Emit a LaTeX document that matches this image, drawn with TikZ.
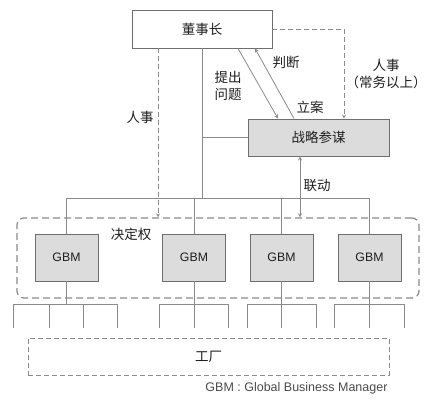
\documentclass[tikz,border=0pt]{standalone}
\usepackage{fontspec}
\setmainfont{Liberation Sans}
\newfontfamily\cjk{Noto Sans CJK SC}
\usetikzlibrary{arrows}
\definecolor{lineGray}{HTML}{8A8A8A}
\definecolor{boxGray}{HTML}{DCDCDC}
\definecolor{edgeGray}{HTML}{6E6E6E}
\definecolor{textGray}{HTML}{1E1E1E}
\tikzstyle{recNode} = [rectangle, inner sep=0pt, draw=edgeGray, line width=0.9pt, text=textGray, text centered, font=\cjk\fontsize{13.5}{16}\selectfont]
\tikzstyle{grayNode} = [recNode, fill=boxGray]
\tikzstyle{gbmNode} = [grayNode, minimum width=63pt, minimum height=47pt, font=\fontsize{12.3}{14}\selectfont]
\tikzstyle{eNode} = [text=textGray, align=center, inner sep=0pt, font=\cjk\fontsize{13.5}{17}\selectfont]
\tikzstyle{line} = [draw=lineGray, line width=0.8pt]
\tikzstyle{arrow} = [line, ->, >=stealth]
\tikzstyle{dashArrow} = [arrow, dash pattern=on 5pt off 3pt]

\begin{document}
\begin{tikzpicture}[x=1pt, y=-1pt]
    \useasboundingbox (0,0) rectangle (430,404);
    \node (chair) [recNode, minimum width=140pt, minimum height=38pt] at (202,29) {董事长};
    \node (staff) [grayNode, minimum width=141pt, minimum height=37pt] at (318.5,137.5) {战略参谋};
    \node (decide) [rectangle, rounded corners=7pt, draw=lineGray, line width=1.2pt, dash pattern=on 7pt off 4pt, minimum width=402pt, minimum height=80pt] at (218,258) {};
    \node (gbm1) [gbmNode] at (66.5,257.5) {GBM};
    \node (gbm2) [gbmNode] at (194,257.5) {GBM};
    \node (gbm3) [gbmNode] at (281.5,257.5) {GBM};
    \node (gbm4) [gbmNode] at (369.5,257.5) {GBM};
    \node (factory) [recNode, draw=lineGray, dash pattern=on 5pt off 3pt, minimum width=361pt, minimum height=37pt] at (208.5,356.5) {工厂};
    \node (note) [anchor=east, text=textGray!80, font=\fontsize{12.5}{14}\selectfont] at (391,388) {GBM : Global Business Manager};

    % labels
    \node (hrLeft) [eNode] at (140,117) {人事};
    \node (raise) [eNode] at (228,86) {提出\\问题};
    \node (judge) [eNode] at (286,62) {判断};
    \node (file) [eNode] at (310,107) {立案};
    \node (hrRight) [eNode] at (386,73.5) {人事\\（常务以上）};
    \node (link) [eNode] at (317,186) {联动};
    \node (power) [eNode] at (131,234) {决定权};

    % solid tree
    \coordinate (busL) at (66.5,198);
    \coordinate (busR) at (369.5,198);
    \draw [line] (busL) -- (busR);
    \draw [line] (chair.south) -- (chair.south |- busL);
    \draw [line] (chair.south |- staff.west) -- (staff.west);
    \foreach \g in {1,...,4}
        \draw [line] (gbm\g.north |- busL) -- (gbm\g.north);

    % dashed personnel lines
    \coordinate (hrTop) at ([xshift=-44pt]chair.south);
    \draw [dashArrow] (hrTop) -- (hrTop |- decide.north);
    \coordinate (hrEnd) at ([xshift=25.5pt]staff.north);
    \draw [dashArrow] (chair.east) -| (hrEnd);

    % proposal / judgement
    \coordinate (askA) at ([xshift=36pt]chair.south);
    \coordinate (askB) at ([xshift=-40.5pt]staff.north);
    \draw [arrow] (askA) -- (askB);
    \coordinate (fileA) at ([xshift=-24.5pt]staff.north);
    \coordinate (judgeB) at ([xshift=53pt]chair.south);
    \draw [arrow] (fileA) -- (judgeB);
    \coordinate (linkA) at ([xshift=-18.5pt]staff.south);
    \draw [arrow, <->] (linkA) -- (linkA |- decide.north);

    % plants under each GBM
    \draw [line] (gbm1.south) -- ++(0,23);
    \foreach \g in {2,3,4}
        \draw [line] (gbm\g.south) -- ++(0,47);
    \foreach \l/\r in {13/117, 159/228, 247/316, 334/404}
        \draw [line] (\l,328) -- (\l,304) -- (\r,304) -- (\r,328);
    \foreach \x in {49,83}
        \draw [line] (\x,304) -- (\x,328);
\end{tikzpicture}
\end{document}
